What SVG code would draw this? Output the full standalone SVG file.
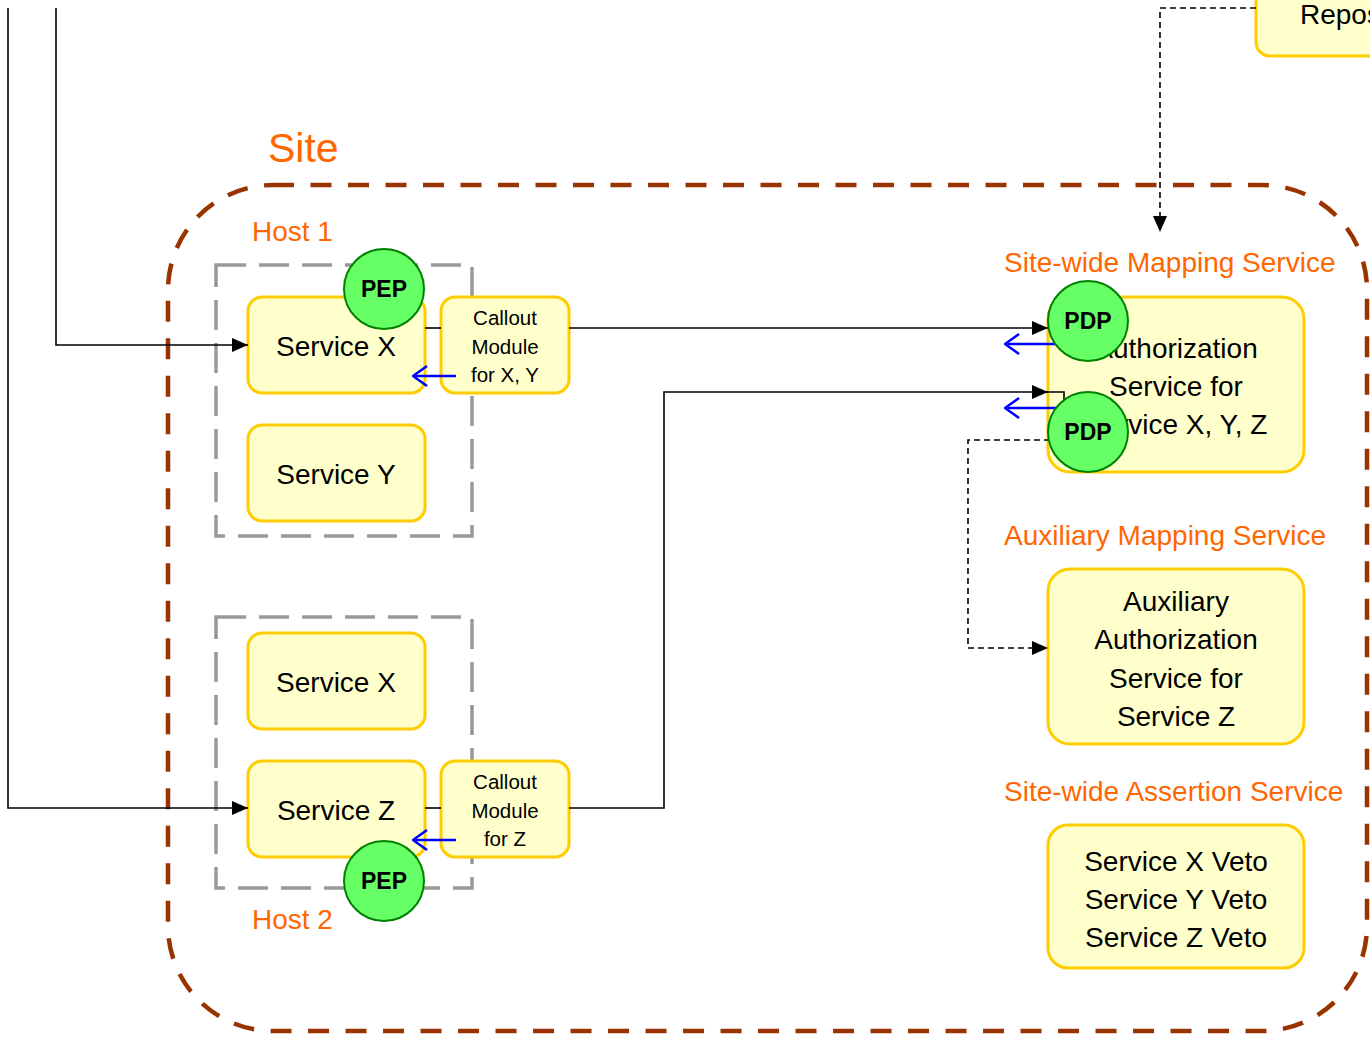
<svg xmlns="http://www.w3.org/2000/svg" width="1370" height="1038" viewBox="0 0 1370 1038">
<style>
  text { font-family: "Liberation Sans", Arial, sans-serif; }
  .box { fill: #FFFFCC; stroke: #FFCC00; stroke-width: 3; }
  .t { font-size: 28px; fill: #000; text-anchor: middle; }
  .tc { font-size: 20.5px; fill: #000; text-anchor: middle; }
  .lbl { font-size: 28px; fill: #FF6600; }
  .circ { fill: #66FF66; stroke: #008000; stroke-width: 2; }
  .ct { font-size: 23px; font-weight: bold; fill: #000; text-anchor: middle; }
  .host { fill: none; stroke: #999999; stroke-width: 3.5; stroke-dasharray: 30 13; }
  .site { fill: none; stroke: #993300; stroke-width: 4.5; stroke-dasharray: 21 16.5; }
  .ln { fill: none; stroke: #000; stroke-width: 1.6; }
  .dash { fill: none; stroke: #000; stroke-width: 1.6; stroke-dasharray: 6 4; }
  .blue { fill: none; stroke: #0000FF; stroke-width: 2.5; }
</style>
<defs>
  <marker id="arr" viewBox="0 0 16 14" refX="16" refY="7" markerWidth="16" markerHeight="14" markerUnits="userSpaceOnUse" orient="auto">
    <path d="M0,0 L16,7 L0,14 z" fill="#000"/>
  </marker>
  <marker id="open" viewBox="0 0 16 22" refX="15" refY="11" markerWidth="16" markerHeight="22" markerUnits="userSpaceOnUse" orient="auto">
    <path d="M1,1 L15,11 L1,21" fill="none" stroke="#0000FF" stroke-width="2.5"/>
  </marker>
</defs>
<rect width="1370" height="1038" fill="#FFFFFF"/>

<g id="site">
  <rect class="site" x="168" y="185" width="1199" height="846" rx="105" ry="105"/>
  <text class="lbl" x="268" y="162" style="font-size:41px">Site</text>
</g>

<g id="host1">
  <rect class="host" x="216" y="265" width="256" height="271"/>
  <text class="lbl" x="252" y="241">Host 1</text>
</g>
<g id="host2">
  <rect class="host" x="216" y="617" width="256" height="271"/>
  <text class="lbl" x="252" y="929">Host 2</text>
</g>

<g id="repository">
  <rect class="box" x="1256" y="-30" width="200" height="86" rx="14"/>
  <text class="t" x="1300" y="24" style="text-anchor:start">Repository</text>
</g>

<g id="service-x1">
  <rect class="box" x="248" y="297" width="177" height="96" rx="14"/>
  <text class="t" x="336" y="356">Service X</text>
</g>
<g id="service-y">
  <rect class="box" x="248" y="425" width="177" height="96" rx="14"/>
  <text class="t" x="336" y="484">Service Y</text>
</g>
<g id="service-x2">
  <rect class="box" x="248" y="633" width="177" height="96" rx="14"/>
  <text class="t" x="336" y="692">Service X</text>
</g>
<g id="service-z">
  <rect class="box" x="248" y="761" width="177" height="96" rx="14"/>
  <text class="t" x="336" y="820">Service Z</text>
</g>

<g id="callout-xy">
  <rect class="box" x="441" y="297" width="128" height="96" rx="14"/>
  <text class="tc" x="505" y="325">Callout</text>
  <text class="tc" x="505" y="354">Module</text>
  <text class="tc" x="505" y="382">for X, Y</text>
</g>
<g id="callout-z">
  <rect class="box" x="441" y="761" width="128" height="96" rx="14"/>
  <text class="tc" x="505" y="789">Callout</text>
  <text class="tc" x="505" y="818">Module</text>
  <text class="tc" x="505" y="846">for Z</text>
</g>

<g id="site-mapping">
  <text class="lbl" x="1004" y="272">Site-wide Mapping Service</text>
  <rect class="box" x="1048" y="297" width="256" height="175" rx="22"/>
  <text class="t" x="1176" y="358">Authorization</text>
  <text class="t" x="1176" y="396">Service for</text>
  <text class="t" x="1176" y="434">Service X, Y, Z</text>
</g>

<g id="aux-mapping">
  <text class="lbl" x="1004" y="545">Auxiliary Mapping Service</text>
  <rect class="box" x="1048" y="569" width="256" height="175" rx="22"/>
  <text class="t" x="1176" y="611">Auxiliary</text>
  <text class="t" x="1176" y="649">Authorization</text>
  <text class="t" x="1176" y="688">Service for</text>
  <text class="t" x="1176" y="726">Service Z</text>
</g>

<g id="assertion">
  <text class="lbl" x="1004" y="801">Site-wide Assertion Service</text>
  <rect class="box" x="1048" y="825" width="256" height="143" rx="20"/>
  <text class="t" x="1176" y="871">Service X Veto</text>
  <text class="t" x="1176" y="909">Service Y Veto</text>
  <text class="t" x="1176" y="947">Service Z Veto</text>
</g>

<g id="connectors">
  <polyline class="ln" points="56,8 56,345 248,345" marker-end="url(#arr)"/>
  <polyline class="ln" points="8,8 8,808 248,808" marker-end="url(#arr)"/>
  <line class="ln" x1="425" y1="328" x2="441" y2="328"/>
  <line class="ln" x1="569" y1="328" x2="1048" y2="328" marker-end="url(#arr)"/>
  <line class="ln" x1="425" y1="808" x2="441" y2="808"/>
  <polyline class="ln" points="569,808 664,808 664,392 1048,392" marker-end="url(#arr)"/>
  <polyline class="ln" points="1040,392 1064,392 1064,402"/>
  <polyline class="dash" points="1256,8 1160,8 1160,232" marker-end="url(#arr)"/>
  <polyline class="dash" points="1050,440 968,440 968,648 1048,648" marker-end="url(#arr)"/>
  <line class="blue" x1="456" y1="376" x2="413" y2="376" marker-end="url(#open)"/>
  <line class="blue" x1="456" y1="840" x2="413" y2="840" marker-end="url(#open)"/>
  <line class="blue" x1="1056" y1="344" x2="1005" y2="344" marker-end="url(#open)"/>
  <line class="blue" x1="1056" y1="408" x2="1005" y2="408" marker-end="url(#open)"/>
</g>

<g id="pep1">
  <circle class="circ" cx="384" cy="289" r="40"/>
  <text class="ct" x="384" y="297">PEP</text>
</g>
<g id="pep2">
  <circle class="circ" cx="384" cy="881" r="40"/>
  <text class="ct" x="384" y="889">PEP</text>
</g>
<g id="pdp1">
  <circle class="circ" cx="1088" cy="321" r="40"/>
  <text class="ct" x="1088" y="329">PDP</text>
</g>
<g id="pdp2">
  <circle class="circ" cx="1088" cy="432" r="40"/>
  <text class="ct" x="1088" y="440">PDP</text>
</g>
</svg>
